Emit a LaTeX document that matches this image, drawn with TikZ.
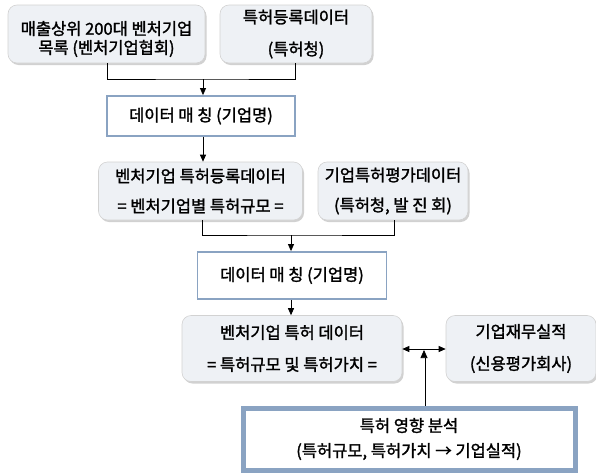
\documentclass[tikz,border=0pt]{standalone}
\usepackage{fontspec}
\setmainfont{Noto Sans CJK KR}[FakeBold=1.6]
\usetikzlibrary{arrows.meta,shadows}
\definecolor{boxfill}{HTML}{EEF1F5}
\definecolor{frameblue}{HTML}{8AA3C2}
\tikzset{
  rbox/.style={draw=gray!35, fill=boxfill, rounded corners=9pt, line width=0.6pt,
    drop shadow={shadow xshift=1.5pt, shadow yshift=-2pt, fill=gray!45, opacity=0.8},
    align=center, font=\fontsize{16.5}{22}\selectfont, inner sep=0pt},
  fbox/.style={draw=frameblue, fill=white, line width=1.8pt, align=center,
    font=\fontsize{16.5}{22}\selectfont, inner sep=0pt},
  tbox/.style={draw=frameblue, fill=white, line width=5pt, align=center,
    font=\fontsize{16.5}{25}\selectfont, inner sep=0pt},
  txt/.style={align=center, inner sep=0pt},
  conn/.style={line width=0.8pt},
  arr/.style={line width=0.8pt, -{Triangle[length=7pt,width=6pt]}},
  lsp/.style={font=\fontsize{16.5}{#1}\selectfont},
}
\begin{document}
\begin{tikzpicture}[x=1pt,y=-1pt]
\useasboundingbox (0,0) rectangle (596,474);
% row 1
\node[rbox, minimum width=197pt, minimum height=58pt] (a) at (106.5,34) {};
\node[txt, lsp=19] (at) at (106.5,39) {매출상위 200대 벤처기업\\목록 (벤처기업협회)};
\node[rbox, lsp=32, minimum width=152pt, minimum height=58pt] (b) at (296,34) {특허등록데이터\\(특허청)};
\node[fbox, minimum width=188pt, minimum height=40pt] (c) at (201,116) {데이터 매 칭 (기업명)};
\coordinate (j1) at (203,79);
\draw[conn] (a.south -| 107,0) |- (j1) -| (b.south -| 295,0);
\draw[arr] (j1) -- (c.north -| j1);
% row 2
\node[rbox, lsp=30, minimum width=204pt, minimum height=58pt] (d) at (200.5,191) {벤처기업 특허등록데이터\\= 벤처기업별 특허규모 =};
\node[rbox, lsp=30, minimum width=150pt, minimum height=58pt] (e) at (393,191) {기업특허평가데이터\\(특허청, 발 진 회)};
\draw[arr] (c.south -| j1) -- (d.north -| j1);
\node[fbox, minimum width=189pt, minimum height=47pt] (f) at (292,275.5) {데이터 매 칭 (기업명)};
\coordinate (j2) at (291,235);
\draw[conn] (d.south -| 202,0) |- (j2) -| (e.south -| 394,0);
\draw[arr] (j2) -- (f.north -| j2);
% row 3
\node[rbox, lsp=32, minimum width=220pt, minimum height=66pt] (g) at (292,348.5) {벤처기업 특허 데이터\\= 특허규모 및 특허가치 =};
\node[rbox, lsp=32, minimum width=150pt, minimum height=66pt] (h) at (521,348.5) {기업재무실적\\(신용평가회사)};
\draw[arr] (f.south -| j2) -- (g.north -| j2);
\coordinate (m) at (424,349);
\draw[line width=0.8pt, {Triangle[length=7pt,width=6pt]}-{Triangle[length=7pt,width=6pt]}] (g.east |- m) -- (h.west |- m);
\node[tbox, minimum width=332pt, minimum height=62pt] (i) at (409,439) {특허 영향 분석\\(특허규모, 특허가치 → 기업실적)};
\draw[line width=0.7pt, double distance=1.6pt, -{Triangle[length=8pt,width=7pt]}] (i.north -| m) -- ([yshift=-1pt]m);
\end{tikzpicture}
\end{document}
